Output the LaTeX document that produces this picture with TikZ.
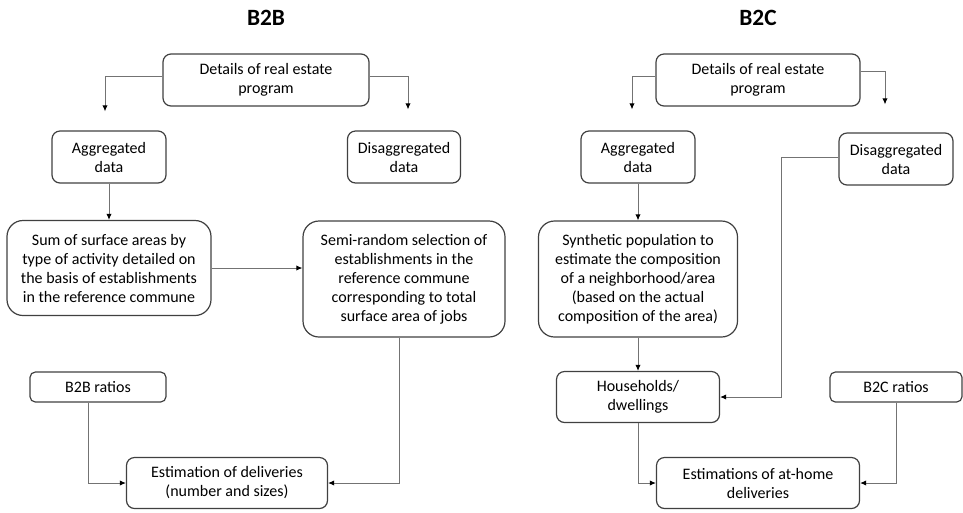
\documentclass[tikz,border=0pt]{standalone}
\usepackage{fontspec}
\setmainfont{Carlito}
\usetikzlibrary{arrows.meta, positioning}
\tikzset{
  >={Latex[length=4.5pt, width=4pt, color=black]},
  on grid,
  every node/.style={font=\fontsize{12}{14.25}\selectfont},
}

\begin{document}
\begin{tikzpicture}[line width=0.75pt,
    box/.style = {draw=black!75, line width=0.9pt, rounded corners=6pt,
      align=center, inner sep=1pt},
    bigbox/.style = {box, rounded corners=12pt},
    title/.style = {font=\fontsize{17.5}{20}\selectfont\bfseries},
    link/.style = {->, draw=black!55}]

      \useasboundingbox (0,0) rectangle (722.25pt,-384pt);

      % --- B2B nodes ---
      \node[box, minimum width=154.5pt, minimum height=39pt] (detB) at (199.5pt,-60pt) {Details of real estate\\program};
      \node[title, above=46.5pt of detB] (titB) {B2B};
      \node[box, minimum width=85.5pt, minimum height=39pt, below left=57.75pt and 117.75pt of detB] (aggB) {Aggregated\\data};
      \node[box, minimum width=84.75pt, minimum height=39pt, below right=57.75pt and 103.5pt of detB] (disB) {Disaggregated\\data};
      \node[bigbox, minimum width=153pt, minimum height=71.25pt, below=83.25pt of aggB] (sumB) {Sum of surface areas by\\type of activity detailed on\\the basis of establishments\\in the reference commune};
      \node[bigbox, minimum width=151.5pt, minimum height=87pt, below=91.5pt of disB] (semB) {Semi-random selection of\\establishments in the\\reference commune\\corresponding to total\\surface area of jobs};
      \node[box, rounded corners=4pt, minimum width=102pt, minimum height=22.5pt, below left=89.25pt and 8.25pt of sumB] (ratB) {B2B ratios};
      \node[box, minimum width=150.75pt, minimum height=38.25pt, below right=72pt and 96.75pt of ratB] (estB) {Estimation of deliveries\\(number and sizes)};

      % --- B2C nodes ---
      \node[box, minimum width=153pt, minimum height=39pt, right=369pt of detB] (detC) {Details of real estate\\program};
      \node[title, above=46.5pt of detC] (titC) {B2C};
      \node[box, minimum width=85.5pt, minimum height=39pt, below left=57.75pt and 90pt of detC] (aggC) {Aggregated\\data};
      \node[box, minimum width=85.5pt, minimum height=39pt, below right=59.25pt and 103.5pt of detC] (disC) {Disaggregated\\data};
      \node[bigbox, minimum width=149.25pt, minimum height=87pt, below=91.5pt of aggC] (synC) {Synthetic population to\\estimate the composition\\of a neighborhood/area\\(based on the actual\\composition of the area)};
      \node[box, minimum width=122.25pt, minimum height=38.25pt, below=88.5pt of synC] (houC) {Households/\\dwellings};
      \node[box, rounded corners=4pt, minimum width=99pt, minimum height=22.5pt, below=171pt of disC] (ratC) {B2C ratios};
      \node[box, minimum width=152.25pt, minimum height=38.25pt, below right=64.5pt and 90pt of houC] (estC) {Estimations of at-home\\deliveries};

      % --- free arrow ends above the data boxes ---
      \coordinate[above left=14.25pt and 3pt of aggB.north] (inAB);
      \coordinate[above right=15.75pt and 3pt of disB.north] (inDB);
      \coordinate[above left=15.75pt and 4.5pt of aggC.north] (inAC);
      \coordinate[above left=21pt and 8.25pt of disC.north] (inDC);

      % --- B2B links ---
      \draw[link] ([yshift=3pt]detB.west) -| (inAB);
      \draw[link] ([yshift=3pt]detB.east) -| (inDB);
      \draw[link] (aggB) -- (sumB);
      \draw[link] (sumB.east) -- (sumB.east -| semB.west);
      \draw[link] ([xshift=-3.75pt]semB.south) |- (estB.east);
      \draw[link] ([xshift=-7.5pt]ratB.south) |- (estB.west);

      % --- B2C links ---
      \draw[link] ([yshift=3pt]detC.west) -| (inAC);
      \draw[link] ([yshift=6.75pt]detC.east) -| (inDC);
      \draw[link] (aggC) -- (synC);
      \draw[link] (synC) -- (houC);
      \draw[link] ([yshift=1.5pt]disC.west) -- ++(-42.75pt,0) |- (houC.east);
      \draw[link] (houC.south) |- (estC.west);
      \draw[link] (ratC.south) |- (estC.east);

    \end{tikzpicture}
\end{document}
